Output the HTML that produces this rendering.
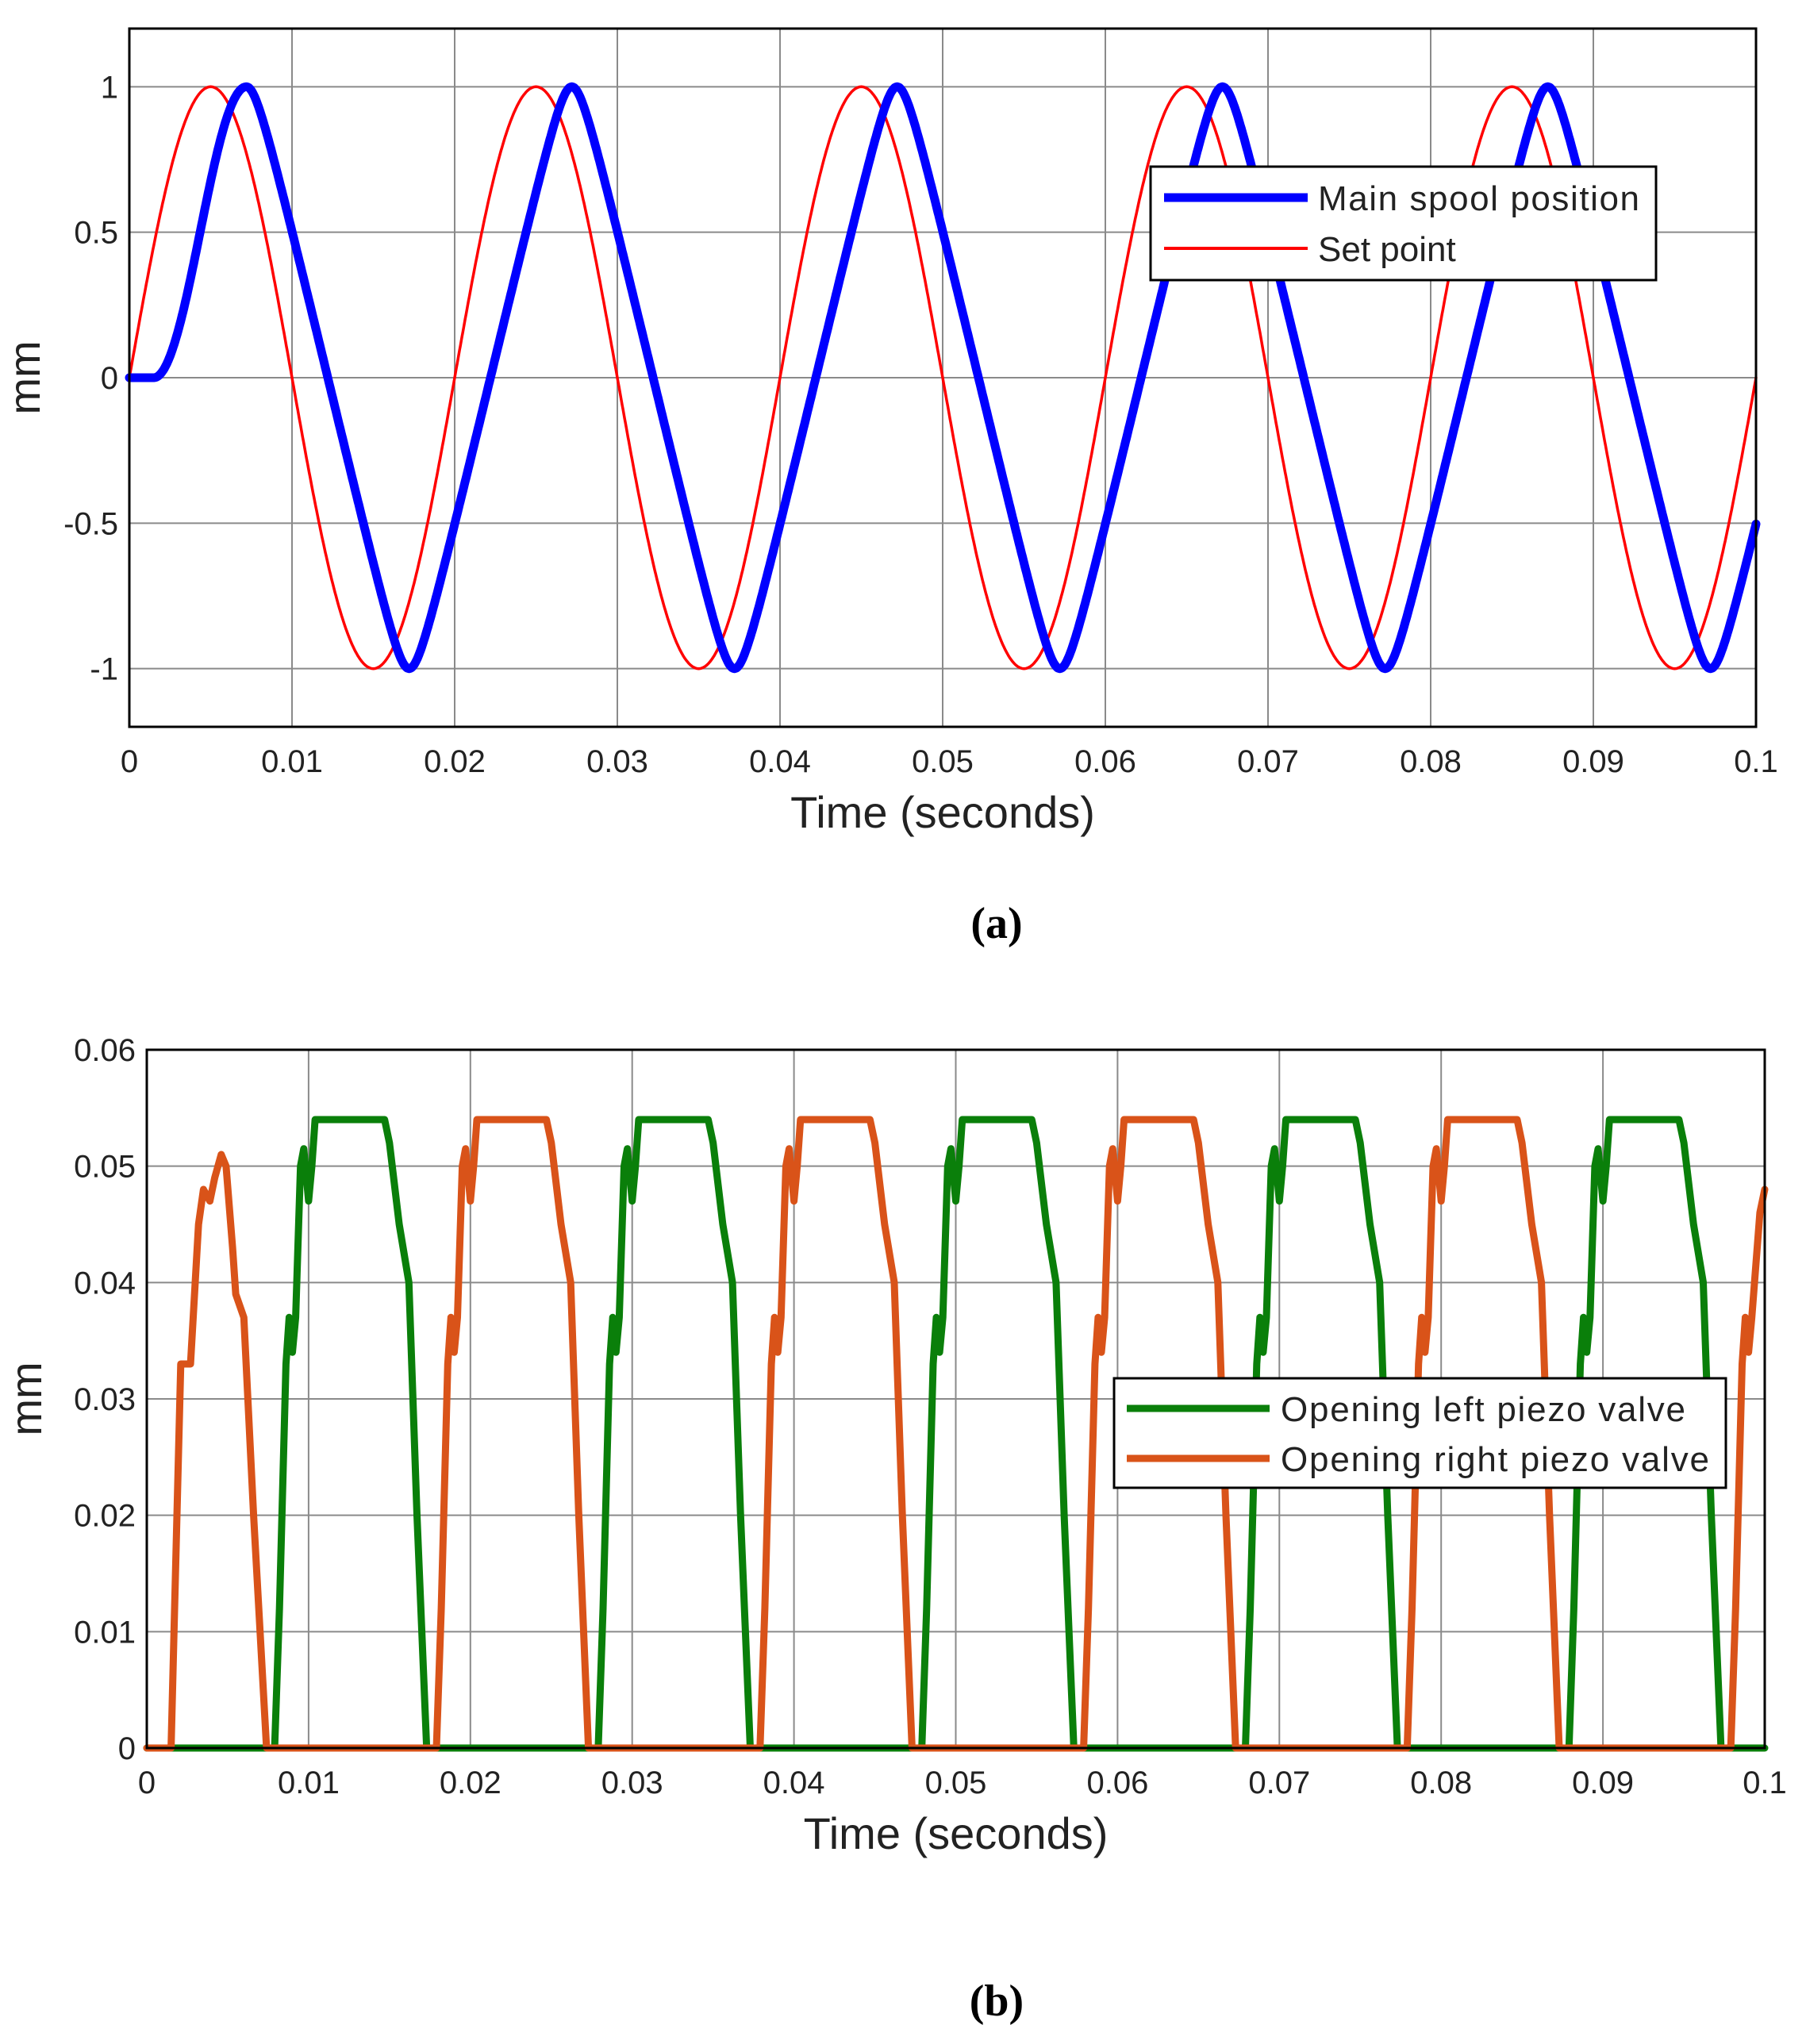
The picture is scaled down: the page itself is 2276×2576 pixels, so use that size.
<!DOCTYPE html>
<html><head><meta charset="utf-8"><style>
html,body{margin:0;padding:0;background:#fff}
svg{display:block}
text{font-family:"Liberation Sans",sans-serif;fill:#222}
</style></head><body>
<svg id="s" width="2276" height="2576" viewBox="0 0 2276 2576" xmlns="http://www.w3.org/2000/svg">
<g id="g"></g>
<text x="1256" y="1182" font-family="Liberation Serif" font-weight="bold" font-size="56" text-anchor="middle" style="font-family:'Liberation Serif',serif;fill:#000">(a)</text>
<text x="1256" y="2540" font-family="Liberation Serif" font-weight="bold" font-size="56" text-anchor="middle" style="font-family:'Liberation Serif',serif;fill:#000">(b)</text>
</svg>
<script>
var NS="http://www.w3.org/2000/svg",G=document.getElementById('g');
function el(n,a,t){var e=document.createElementNS(NS,n);for(var k in a)e.setAttribute(k,a[k]);if(t!=null)e.textContent=t;G.appendChild(e);return e;}
function axes(L,R,T,B,ymin,ymax,yt,ylab,xlabY,titleY,mmX){
  var X=function(t){return L+(R-L)*t/0.1},Y=function(v){return B-(B-T)*(v-ymin)/(ymax-ymin)};
  for(var i=0;i<=10;i++){var x=X(i*0.01);
    if(i>0&&i<10)el('line',{x1:x,x2:x,y1:T,y2:B,stroke:'#8a8a8a','stroke-width':2});
    el('text',{x:x,y:xlabY,'font-size':40,'text-anchor':'middle'},i==0?'0':i==10?'0.1':(i/100).toFixed(2));}
  yt.forEach(function(v,j){var y=Y(v);
    if(Math.abs(v-ymin)>1e-9&&Math.abs(v-ymax)>1e-9)el('line',{x1:L,x2:R,y1:y,y2:y,stroke:'#8a8a8a','stroke-width':2});
    el('text',{x:L-14,y:y+14,'font-size':40,'text-anchor':'end'},ylab[j]);});
  el('text',{x:(L+R)/2,y:titleY,'font-size':56,'text-anchor':'middle'},'Time (seconds)');
  var my=(T+B)/2;el('text',{x:mmX,y:my,'font-size':56,'text-anchor':'middle',transform:'rotate(-90 '+mmX+' '+my+')'},'mm');
  return [X,Y];}
function path(pts,X,Y,c,w){var d='';pts.forEach(function(p,i){d+=(i?'L':'M')+X(p[0]).toFixed(1)+' '+Y(p[1]).toFixed(1)});
  el('path',{d:d,fill:'none',stroke:c,'stroke-width':w,'stroke-linejoin':'round','stroke-linecap':'round'});}
// Panel a
var A=axes(163,2213,36,916,-1.2,1.2,[-1,-0.5,0,0.5,1],['-1','-0.5','0','0.5','1'],973,1043,50);
var sp=[],mp=[];
for(var i=0;i<=2000;i++){var t=i*0.1/2000;sp.push([t,Math.sin(2*Math.PI*t/0.02)]);
  var s=Math.sin(2*Math.PI*(t-0.0022)/0.02),f=Math.asin(0.97*s)/Math.asin(0.97);
  if(t<0.0015)f=0;else if(t<0.0072){var u=(t-0.0015)/0.0057;f=(1-Math.cos(Math.PI*u))/2;}
  mp.push([t,f]);}
path(sp,A[0],A[1],'#ff0000',3.5);path(mp,A[0],A[1],'#0000ff',11);
el('rect',{x:163,y:36,width:2050,height:880,fill:'none',stroke:'#000','stroke-width':3});
el('rect',{x:1450,y:210,width:637,height:143,fill:'#fff',stroke:'#000','stroke-width':3});
el('line',{x1:1467,x2:1648,y1:249,y2:249,stroke:'#0000ff','stroke-width':11});
el('line',{x1:1467,x2:1648,y1:313,y2:313,stroke:'#ff0000','stroke-width':4});
el('text',{x:1661,y:265,'font-size':44,textLength:405},'Main spool position');
el('text',{x:1661,y:329,'font-size':44},'Set point');
// Panel b
var B=axes(185,2224,1323,2203,0,0.06,[0,0.01,0.02,0.03,0.04,0.05,0.06],['0','0.01','0.02','0.03','0.04','0.05','0.06'],2260,2330,52);
var tp=[[0,0],[0.0003,0.012],[0.0007,0.033],[0.0009,0.037],[0.0011,0.034],[0.0013,0.037],[0.0016,0.05],[0.0018,0.0515],[0.0021,0.047],[0.0023,0.05],[0.0025,0.054],[0.0068,0.054],[0.0071,0.052],[0.0077,0.045],[0.0083,0.04],[0.0088,0.02],[0.0094,0]];
function series(starts,first,tail){var p=first?first.slice():[[0,0]];
  starts.forEach(function(s){tp.forEach(function(q){if(s+q[0]<=0.1)p.push([s+q[0],q[1]]);});});
  if(tail)p.push(tail);else if(p[p.length-1][0]<0.1)p.push([0.1,0]);
  return p;}
var gs=[],os=[];for(var k=0;k<5;k++){gs.push(0.0079+0.02*k);}
for(var k=0;k<4;k++)os.push(0.0179+0.02*k);
var of=[[0,0],[0.0015,0],[0.0021,0.033],[0.0027,0.033],[0.0032,0.045],[0.0035,0.048],[0.0039,0.047],[0.0042,0.049],[0.0046,0.051],[0.0049,0.05],[0.0053,0.043],[0.0055,0.039],[0.006,0.037],[0.0066,0.02],[0.0074,0],[0.0179,0]];
var gp=series(gs,[[0,0],[0.0079,0]]);path(gp,B[0],B[1],'#0a7f0a',9);
var op=series(os,of);op.pop();
[[0.0979,0],[0.0982,0.012],[0.0986,0.033],[0.0988,0.037],[0.099,0.034],[0.0992,0.037],[0.0997,0.046],[0.1,0.048]].forEach(function(q){op.push(q)});
path(op,B[0],B[1],'#d95319',9);
el('rect',{x:185,y:1323,width:2039,height:880,fill:'none',stroke:'#000','stroke-width':3});
el('rect',{x:1404,y:1737,width:771,height:138,fill:'#fff',stroke:'#000','stroke-width':3});
el('line',{x1:1420,x2:1600,y1:1775,y2:1775,stroke:'#0a7f0a','stroke-width':9});
el('line',{x1:1420,x2:1600,y1:1838,y2:1838,stroke:'#d95319','stroke-width':9});
el('text',{x:1614,y:1791,'font-size':44,textLength:510},'Opening left piezo valve');
el('text',{x:1614,y:1854,'font-size':44,textLength:540},'Opening right piezo valve');
</script>
</body></html>
